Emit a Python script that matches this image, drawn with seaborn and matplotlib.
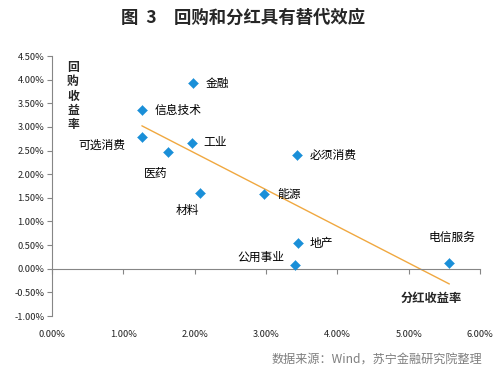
import matplotlib
matplotlib.use("Agg")
import matplotlib.pyplot as plt
import seaborn as sns
import pandas as pd
from matplotlib.ticker import FuncFormatter

sectors = ["金融", "信息技术", "可选消费", "工业", "医药", "材料",
           "必须消费", "能源", "地产", "公用事业", "电信服务"]
dividend_yield = [1.98, 1.26, 1.26, 1.96, 1.63, 2.07, 3.43, 2.97, 3.45, 3.41, 5.57]
buyback_yield = [3.92, 3.35, 2.78, 2.67, 2.46, 1.61, 2.40, 1.58, 0.54, 0.08, 0.12]
x_ticks = [0, 1, 2, 3, 4, 5, 6]
y_ticks = [-1.0, -0.5, 0.0, 0.5, 1.0, 1.5, 2.0, 2.5, 3.0, 3.5, 4.0, 4.5]

title = "图  3\u3000回购和分红具有替代效应"
x_title = "分红收益率"
y_title = "回购收益率"
source = "数据来源：Wind，苏宁金融研究院整理"

# label offsets in pixels (dx right, dy down) and alignment
label_style = {
    "金融": (12, 0, "left"), "信息技术": (13, 0, "left"), "工业": (12, 0, "left"),
    "必须消费": (13, 0, "left"), "能源": (13, 0, "left"), "地产": (12, 0, "left"),
    "可选消费": (-17, 8, "right"), "医药": (-13, 21, "center"),
    "材料": (-12, 18, "center"), "公用事业": (-11, -8, "right"),
    "电信服务": (3, -26, "center"),
}

df = pd.DataFrame({"sector": sectors, "div": dividend_yield, "buy": buyback_yield})

sns.set_theme(style="white")
plt.rcParams["font.family"] = ["Noto Sans CJK SC", "DejaVu Sans"]

fig = plt.figure(figsize=(5.03, 3.72), dpi=100)
ax = fig.add_axes([52 / 503, 56 / 372, 428 / 503, 260 / 372])

xmin, xmax = x_ticks[0], x_ticks[-1]
ymin, ymax = y_ticks[0], y_ticks[-1]

sns.regplot(data=df, x="div", y="buy", scatter=False, ci=None, ax=ax,
            line_kws=dict(color="#F0A840", lw=1.0), truncate=True)
sns.scatterplot(data=df, x="div", y="buy", marker="D", s=26, color="#1A8FD8",
                edgecolor="#1A8FD8", linewidth=0.3, ax=ax, zorder=5)

for name, xv, yv in zip(sectors, dividend_yield, buyback_yield):
    dx, dy, ha = label_style[name]
    ax.annotate(name, (xv, yv), xytext=(dx * 0.72, -dy * 0.72),
                textcoords="offset points", ha=ha, va="center",
                fontsize=8.5, color="black")

ax.set_xlim(xmin, xmax)
ax.set_ylim(ymin, ymax)
ax.set_xticks(x_ticks)
ax.set_yticks(y_ticks)
pct = FuncFormatter(lambda v, p: f"{v:.2f}%")
ax.yaxis.set_major_formatter(pct)

for s in ["top", "right"]:
    ax.spines[s].set_visible(False)
ax.spines["left"].set_color("#868686")
ax.spines["left"].set_linewidth(0.8)
ax.spines["bottom"].set_position(("data", 0))
ax.spines["bottom"].set_color("#868686")
ax.spines["bottom"].set_linewidth(0.8)
ax.tick_params(axis="y", direction="out", length=3.5, width=0.8,
               color="#868686", labelsize=6.7, pad=2, left=True,
               labelcolor="#222222")
ax.tick_params(axis="x", direction="out", length=3.5, width=0.8,
               color="#868686", labelbottom=False, bottom=True)

sec = ax.secondary_xaxis("bottom")
sec.set_xticks(x_ticks)
sec.xaxis.set_major_formatter(pct)
sec.spines["bottom"].set_visible(False)
sec.tick_params(length=0, labelsize=6.7, pad=10, labelcolor="#222222")

ax.set_xlabel("")
ax.set_ylabel("")

ax.text(0.049, 0.846, "\n".join(y_title), transform=ax.transAxes,
        ha="center", va="center", fontsize=8.5, fontweight="bold",
        linespacing=1.12)
ax.text(0.885, 0.069, x_title, transform=ax.transAxes, ha="center",
        va="center", fontsize=8.8, fontweight="bold")

fig.text(121 / 503, 1 - 18 / 372, title, ha="left", va="center",
         fontsize=12.5, fontweight="bold")
fig.text(482 / 503, 1 - 360 / 372, source, ha="right", va="center",
         fontsize=8.7, color="#7F7F7F", style="italic")

fig.savefig("out.png", dpi=100)
